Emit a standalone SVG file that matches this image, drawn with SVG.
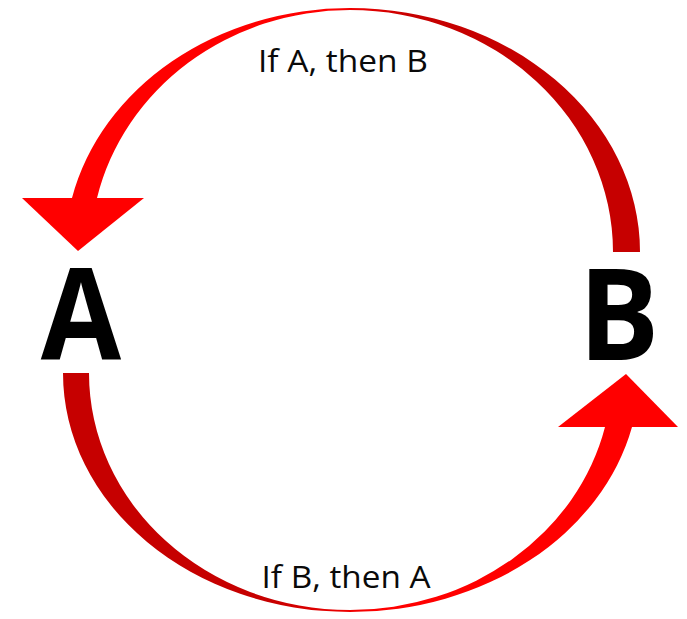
<svg xmlns="http://www.w3.org/2000/svg" width="687" height="619" viewBox="0 0 687 619">
  <defs>
    <linearGradient id="gTop" gradientUnits="userSpaceOnUse" x1="330" y1="0" x2="410" y2="0">
      <stop offset="0" stop-color="#FF0000"/>
      <stop offset="1" stop-color="#C60000"/>
    </linearGradient>
    <linearGradient id="gBot" gradientUnits="userSpaceOnUse" x1="270" y1="0" x2="380" y2="0">
      <stop offset="0" stop-color="#C60000"/>
      <stop offset="1" stop-color="#FF0000"/>
    </linearGradient>
  </defs>
  <style>
    .node { font-family: "Open Sans", "Liberation Sans", sans-serif; font-weight: 700; font-size: 128px; fill: #000; }
    .lbl { font-family: "Open Sans", "Liberation Sans", sans-serif; font-size: 31px; fill: #0a0a0a; }
    .head { fill: #FF0000; }
  </style>
  <rect width="687" height="619" fill="#fff"/>
  <g id="connectors">
    <g id="arrow-A-B-top">
      <path fill="url(#gTop)" d="M 640 252 A 290 244 0 0 0 350 8 A 285 244 0 0 0 72 198 L 97 198 A 259.5 242 0 0 1 350 10 A 263 242 0 0 1 613 252 Z"/>
      <polygon class="head" points="22,198 144,198 78,251"/>
      <text class="lbl" x="343" y="72" text-anchor="middle" textLength="170" lengthAdjust="spacingAndGlyphs">If A, then B</text>
    </g>
    <g id="arrow-B-A-bottom">
      <path fill="url(#gBot)" d="M 63 373 A 287 239 0 0 0 350 612 A 289.5 239 0 0 0 632 427 L 605 427 A 261.9 237 0 0 1 350 610 A 261 237 0 0 1 89 373 Z"/>
      <polygon class="head" points="558,427 678,427 626,374"/>
      <text class="lbl" x="346" y="588" text-anchor="middle" textLength="169" lengthAdjust="spacingAndGlyphs">If B, then A</text>
    </g>
  </g>
  <g id="node-A">
    <text class="node" transform="translate(81 0) scale(0.91 1)" x="0" y="360" text-anchor="middle">A</text>
  </g>
  <g id="node-B">
    <text class="node" transform="translate(619 0) scale(0.94 1)" x="0" y="360" text-anchor="middle">B</text>
  </g>
</svg>
